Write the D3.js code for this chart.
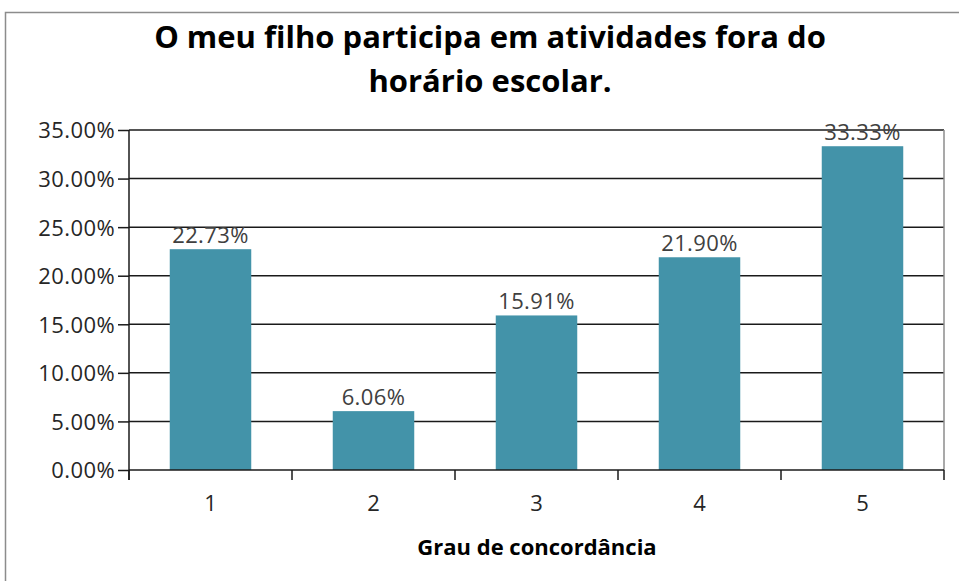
<!DOCTYPE html>
<html><head><meta charset="utf-8">
<script src="https://cdn.jsdelivr.net/npm/d3@7"></script>
<style>body{margin:0;background:#fff;}svg{display:block;}</style>
</head><body>
<svg id="chart" width="959" height="581"></svg>
<script>
const categories = ["1","2","3","4","5"];
const values = [22.73, 6.06, 15.91, 21.90, 33.33];
const yTicks = [0,5,10,15,20,25,30,35];
const titleLines = ["O meu filho participa em atividades fora do","horário escolar."];
const xTitle = "Grau de concordância";

const svg = d3.select("#chart");
const font = "'Open Sans', sans-serif";
const M = {left:129, right:944, top:130, bottom:470};

// outer frame
svg.append("rect").attr("x",5.5).attr("y",12.5).attr("width",980).attr("height",600)
  .attr("fill","#fff").attr("stroke","#8c8c8c").attr("stroke-width",1.5);

const x = d3.scaleBand().domain(categories).range([M.left,M.right]).paddingInner(0.5).paddingOuter(0.25);
const xOuter = d3.scaleBand().domain(categories).range([M.left,M.right]);
const y = d3.scaleLinear().domain([0,35]).range([M.bottom,M.top]);

// gridlines
svg.append("g").selectAll("line").data(yTicks.filter(d=>d>0)).join("line")
  .attr("x1",M.left).attr("x2",M.right).attr("y1",d=>y(d)).attr("y2",d=>y(d))
  .attr("stroke","#1a1a1a").attr("stroke-width",1.5);
// right border of plot
svg.append("line").attr("x1",M.right).attr("x2",M.right).attr("y1",M.top).attr("y2",M.bottom)
  .attr("stroke","#8c8c8c").attr("stroke-width",1.5);

// bars
svg.append("g").selectAll("rect").data(values).join("rect")
  .attr("x",(d,i)=>x(categories[i])).attr("width",x.bandwidth())
  .attr("y",d=>y(d)).attr("height",d=>y(0)-y(d))
  .attr("fill","#4393a9");

// y axis
const yAxis = d3.axisLeft(y).tickValues(yTicks).tickSize(11).tickPadding(3)
  .tickFormat(d=>d3.format(".2f")(d)+"%");
const gy = svg.append("g").attr("transform",`translate(${M.left},0)`).call(yAxis);
gy.select(".domain").attr("stroke","#1a1a1a").attr("stroke-width",1.5).attr("d",`M0,${M.top}V${M.bottom+10}`);
gy.selectAll(".tick line").attr("stroke","#1a1a1a").attr("stroke-width",1.5);
gy.selectAll("text").attr("font-family",font).attr("font-size",22).attr("fill","#262626")
  .attr("letter-spacing","0.4px").attr("dy","0.36em");

// x axis
const gx = svg.append("g").attr("transform",`translate(0,${M.bottom})`);
gx.append("line").attr("x1",M.left).attr("x2",M.right).attr("stroke","#1a1a1a").attr("stroke-width",1.5);
const bounds = categories.map(c=>xOuter(c)).concat([M.right]);
gx.selectAll(".xt").data(bounds).join("line").attr("class","xt")
  .attr("x1",d=>d).attr("x2",d=>d).attr("y1",0).attr("y2",10)
  .attr("stroke","#1a1a1a").attr("stroke-width",1.5);
gx.selectAll(".xl").data(categories).join("text").attr("class","xl")
  .attr("x",d=>xOuter(d)+xOuter.bandwidth()/2).attr("y",41)
  .attr("text-anchor","middle").attr("font-family",font).attr("font-size",22).attr("fill","#262626")
  .text(d=>d);

// data labels
svg.append("g").selectAll("text").data(values).join("text")
  .attr("x",(d,i)=>x(categories[i])+x.bandwidth()/2).attr("y",d=>y(d)-6)
  .attr("text-anchor","middle").attr("font-family",font).attr("font-size",22).attr("fill","#404040")
  .attr("letter-spacing","0.4px")
  .text(d=>d3.format(".2f")(d)+"%");

// title
svg.append("g").selectAll("text").data(titleLines).join("text")
  .attr("x",490).attr("y",(d,i)=>48+i*44).attr("text-anchor","middle")
  .attr("font-family",font).attr("font-weight","bold").attr("font-size",31).attr("fill","#000")
  .text(d=>d);

// x title
svg.append("text").attr("x",537).attr("y",555).attr("text-anchor","middle")
  .attr("font-family",font).attr("font-weight","bold").attr("font-size",22).attr("fill","#000")
  .text(xTitle);
</script>
</body></html>
